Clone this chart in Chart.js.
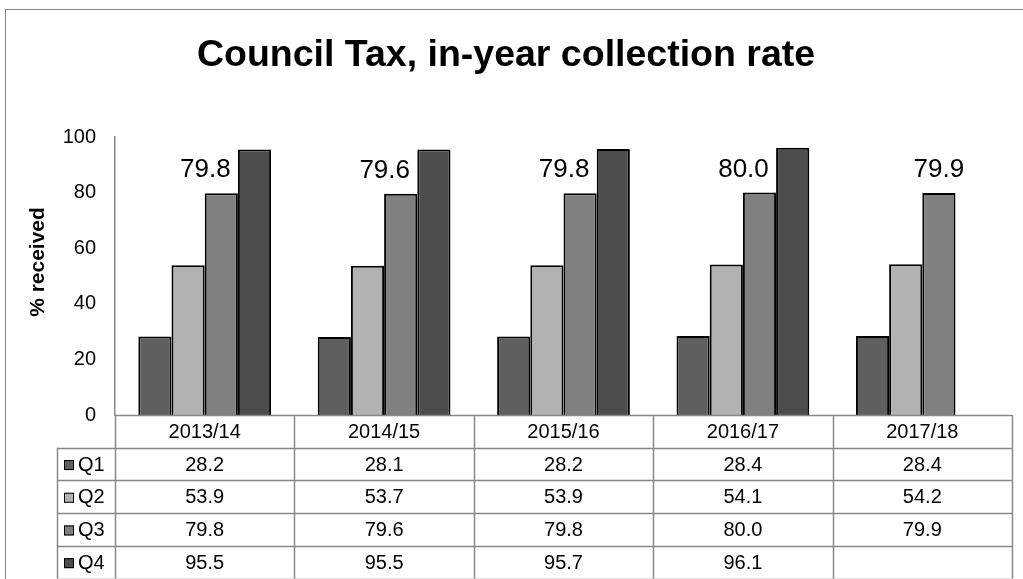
<!DOCTYPE html>
<html>
<head>
<meta charset="utf-8">
<script src="https://cdn.jsdelivr.net/npm/chart.js@4"></script>
<style>
  html, body { margin: 0; padding: 0; background: #fff; }
  #wrap { width: 1023px; height: 579px; position: relative; }
</style>
</head>
<body>
<div id="wrap"><canvas id="chart"></canvas></div>
<script>
const years = ['2013/14', '2014/15', '2015/16', '2016/17', '2017/18'];
const quarters = ['Q1', 'Q2', 'Q3', 'Q4'];
const q1 = [28.2, 28.1, 28.2, 28.4, 28.4];
const q2 = [53.9, 53.7, 53.9, 54.1, 54.2];
const q3 = [79.8, 79.6, 79.8, 80.0, 79.9];
const q4 = [95.5, 95.5, 95.7, 96.1, null];
const yTicks = [0, 20, 40, 60, 80, 100];

const barColors = ['#5f5f5f', '#b2b2b2', '#808080', '#4d4d4d'];
const gridGrey = '#888888';
const FONT = '"Liberation Sans", Arial, sans-serif';

// outer frame of the chart object
const framePlugin = {
    id: 'frame',
    beforeDraw(chart) {
        const ctx = chart.ctx;
        ctx.save();
        ctx.strokeStyle = gridGrey;
        ctx.lineWidth = 1;
        ctx.strokeRect(5.5, 9.5, chart.width + 10, chart.height + 10);
        ctx.restore();
    }
};

// y axis title, placed where Excel put it (a bit above the plot middle)
const yTitlePlugin = {
    id: 'yTitle',
    afterDraw(chart) {
        const ctx = chart.ctx;
        ctx.save();
        ctx.translate(38, 262);
        ctx.rotate(-Math.PI / 2);
        ctx.font = 'bold 21px ' + FONT;
        ctx.fillStyle = '#000';
        ctx.textAlign = 'center';
        ctx.textBaseline = 'middle';
        ctx.fillText('% received', 0, 0);
        ctx.restore();
    }
};

// value labels over the Q3 bars
const q3LabelPlugin = {
    id: 'q3Labels',
    afterDatasetsDraw(chart) {
        const ctx = chart.ctx;
        const meta = chart.getDatasetMeta(2);
        ctx.save();
        ctx.font = '26px ' + FONT;
        ctx.fillStyle = '#000';
        ctx.textAlign = 'center';
        ctx.textBaseline = 'alphabetic';
        meta.data.forEach((bar, i) => {
            // Excel nudged the label left where the Q4 bar is in the way
            const shift = q4[i] !== null ? -16 : 0;
            ctx.fillText(q3[i].toFixed(1), bar.x + shift, bar.y - 16);
        });
        ctx.restore();
    }
};

// data table under the plot
const tablePlugin = {
    id: 'dataTable',
    afterDraw(chart) {
        const ctx = chart.ctx;
        const area = chart.chartArea;
        const xs = chart.scales.x;
        const colW = (area.right - area.left) / years.length;
        const rowH = 32.7;
        const top = area.bottom;
        const legendLeft = 57;
        const series = [q1, q2, q3, q4];

        ctx.save();
        ctx.strokeStyle = gridGrey;
        ctx.lineWidth = 1.5;

        // horizontal lines
        for (let r = 0; r <= quarters.length + 1; r++) {
            const y = Math.round(top + r * rowH) + 0.5;
            ctx.beginPath();
            ctx.moveTo(r === 0 ? area.left : legendLeft, y);
            ctx.lineTo(area.right, y);
            ctx.stroke();
        }
        // vertical lines
        const bottom = top + (quarters.length + 1) * rowH;
        ctx.beginPath();
        ctx.moveTo(legendLeft + 0.5, top + rowH);
        ctx.lineTo(legendLeft + 0.5, bottom);
        ctx.stroke();
        for (let c = 0; c <= years.length; c++) {
            const x = Math.round(area.left + c * colW) + 0.5;
            ctx.beginPath();
            ctx.moveTo(x, top);
            ctx.lineTo(x, bottom);
            ctx.stroke();
        }

        ctx.font = '20px ' + FONT;
        ctx.fillStyle = '#000';
        ctx.textAlign = 'center';
        ctx.textBaseline = 'middle';
        years.forEach((yr, i) => {
            const cx = xs.getPixelForValue(i);
            ctx.fillText(yr, cx, top + rowH / 2 + 1);
            series.forEach((s, r) => {
                if (s[i] !== null) {
                    ctx.fillText(s[i].toFixed(1), cx, top + (r + 1.5) * rowH + 1);
                }
            });
        });

        // legend keys
        ctx.textAlign = 'left';
        ctx.lineWidth = 1;
        quarters.forEach((q, r) => {
            const cy = top + (r + 1.5) * rowH;
            ctx.fillStyle = barColors[r];
            ctx.fillRect(64, cy - 4, 10, 10);
            ctx.strokeStyle = '#000';
            ctx.strokeRect(64.5, cy - 3.5, 9, 9);
            ctx.fillStyle = '#000';
            ctx.fillText(q, 78, cy + 1);
        });
        ctx.restore();
    }
};

new Chart(document.getElementById('chart'), {
    type: 'bar',
    data: {
        labels: years,
        datasets: [q1, q2, q3, q4].map((d, i) => ({
            label: quarters[i],
            data: d,
            backgroundColor: barColors[i],
            borderColor: '#000',
            borderWidth: 2,
            categoryPercentage: 0.74,
            barPercentage: 1.0
        }))
    },
    options: {
        responsive: true,
        maintainAspectRatio: false,
        animation: false,
        layout: {
            padding: { left: 0, right: 11, top: 0, bottom: 164 }
        },
        plugins: {
            legend: { display: false },
            tooltip: { enabled: false },
            title: {
                display: true,
                text: 'Council Tax, in-year collection rate',
                color: '#000',
                font: { family: FONT, size: 37.5, weight: 'bold' },
                padding: { top: 33, bottom: 59 }
            }
        },
        scales: {
            x: {
                display: false
            },
            y: {
                min: 0,
                max: 100,
                afterBuildTicks(scale) {
                    scale.ticks = yTicks.map(v => ({ value: v }));
                },
                afterFit(scale) {
                    scale.width = 115;
                },
                grid: { display: false, drawTicks: false },
                border: { display: true, color: gridGrey, width: 1.5 },
                ticks: {
                    color: '#000',
                    padding: 19,
                    font: { family: FONT, size: 20 }
                }
            }
        }
    },
    plugins: [framePlugin, yTitlePlugin, q3LabelPlugin, tablePlugin]
});
</script>
</body>
</html>
